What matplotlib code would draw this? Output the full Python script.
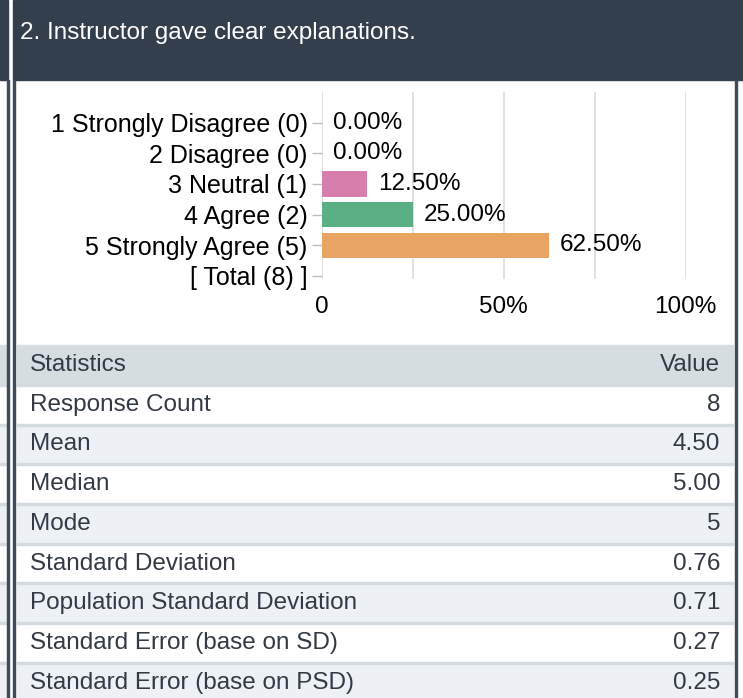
import matplotlib.pyplot as plt
from matplotlib.patches import Rectangle

plt.rcParams['font.family'] = ['Liberation Sans', 'DejaVu Sans']

# Data
title = "2. Instructor gave clear explanations."
categories = ["1 Strongly Disagree (0)", "2 Disagree (0)", "3 Neutral (1)",
              "4 Agree (2)", "5 Strongly Agree (5)", "[ Total (8) ]"]
percents = [0.0, 0.0, 12.5, 25.0, 62.5]
bar_colors = ["#d77fac", "#5aaf85", "#d77fac", "#5aaf85", "#e8a463"]
x_ticks = [0, 50, 100]
x_tick_labels = ["0", "50%", "100%"]

stat_names = ["Response Count", "Mean", "Median", "Mode", "Standard Deviation",
              "Population Standard Deviation", "Standard Error (base on SD)",
              "Standard Error (base on PSD)"]
stat_values = ["8", "4.50", "5.00", "5", "0.76", "0.71", "0.27", "0.25"]

# Colours
dark = "#343f4e"
border = "#3e4b5c"
head_gray = "#d6dde1"
row_light = "#edf1f5"
sep = "#d3dae0"
txt = "#333a44"
fs = 17.5
fs_lab = 18

W, H = 743, 698
fig = plt.figure(figsize=(W / 100, H / 100), dpi=100)

# background canvas in pixel coords
bg = fig.add_axes([0, 0, 1, 1])
bg.set_xlim(0, W)
bg.set_ylim(H, 0)
bg.axis('off')

bg.add_patch(Rectangle((0, 0), W, H, color="white", zorder=0))
# header bar
bg.add_patch(Rectangle((0, 0), 8, 80, color=dark, zorder=1))
bg.add_patch(Rectangle((13, 0), W - 13, 80, color=dark, zorder=1))
bg.text(20, 33, title, color="white", fontsize=fs, va="center", ha="left")

# statistics table
row_h = 39.7
top = 345.2
rows = [("Statistics", "Value")] + list(zip(stat_names, stat_values))
for i, (name, val) in enumerate(rows):
    y0 = top + i * row_h
    if i == 0:
        col = head_gray
    elif i % 2 == 0:
        col = row_light
    else:
        col = "white"
    bg.add_patch(Rectangle((17, y0), 716, row_h, color=col, zorder=1))
    bg.add_patch(Rectangle((0, y0), 7, row_h, color=col, zorder=1))
    if i > 0:
        bg.add_patch(Rectangle((17, y0 - 1), 716, 2, color=sep, zorder=2))
        bg.add_patch(Rectangle((0, y0 - 1), 7, 2, color=sep, zorder=2))
    yc = y0 + row_h / 2
    bg.text(30, yc, name, color=txt, fontsize=fs, va="center", ha="left", zorder=3)
    bg.text(720, yc, val, color=txt, fontsize=fs, va="center", ha="right", zorder=3)

# vertical borders
bg.add_patch(Rectangle((7, 80), 2.2, H - 80, color=border, zorder=4))
bg.add_patch(Rectangle((13, 80), 2.2, H - 80, color=border, zorder=4))
bg.add_patch(Rectangle((735, 80), 2.2, H - 80, color=border, zorder=4))

# bar chart
ax_left, ax_right = 321.5, 685.5
ax_top, ax_bot = 92, 279
ax = fig.add_axes([ax_left / W, 1 - ax_bot / H, (ax_right - ax_left) / W,
                   (ax_bot - ax_top) / H])
ax.set_facecolor("none")
ypos = list(range(len(categories)))
ax.barh(ypos[:len(percents)], percents, height=0.82, color=bar_colors, zorder=3)
for y, p in zip(ypos, percents):
    ax.annotate(f"{p:.2f}%", (p, y), xytext=(11, 0), textcoords="offset pixels",
                va="center", ha="left", fontsize=fs, color="black", zorder=4)

ax.set_xlim(0, 100)
ax.set_ylim(len(categories) - 0.9, -1)
ax.set_yticks(ypos)
ax.set_yticklabels(categories, fontsize=fs_lab, color="black")
ax.set_xticks(x_ticks)
ax.set_xticklabels(x_tick_labels, fontsize=fs, color="black")
for g in [0, 25, 50, 75, 100]:
    ax.axvline(g, color="#dcdcdc", lw=1.2, zorder=1)
for s in ax.spines.values():
    s.set_visible(False)
ax.tick_params(axis="y", length=7, width=1, color="#bdbdbd", pad=3)
ax.tick_params(axis="x", length=0, pad=12)

fig.savefig("out.png", dpi=100)
